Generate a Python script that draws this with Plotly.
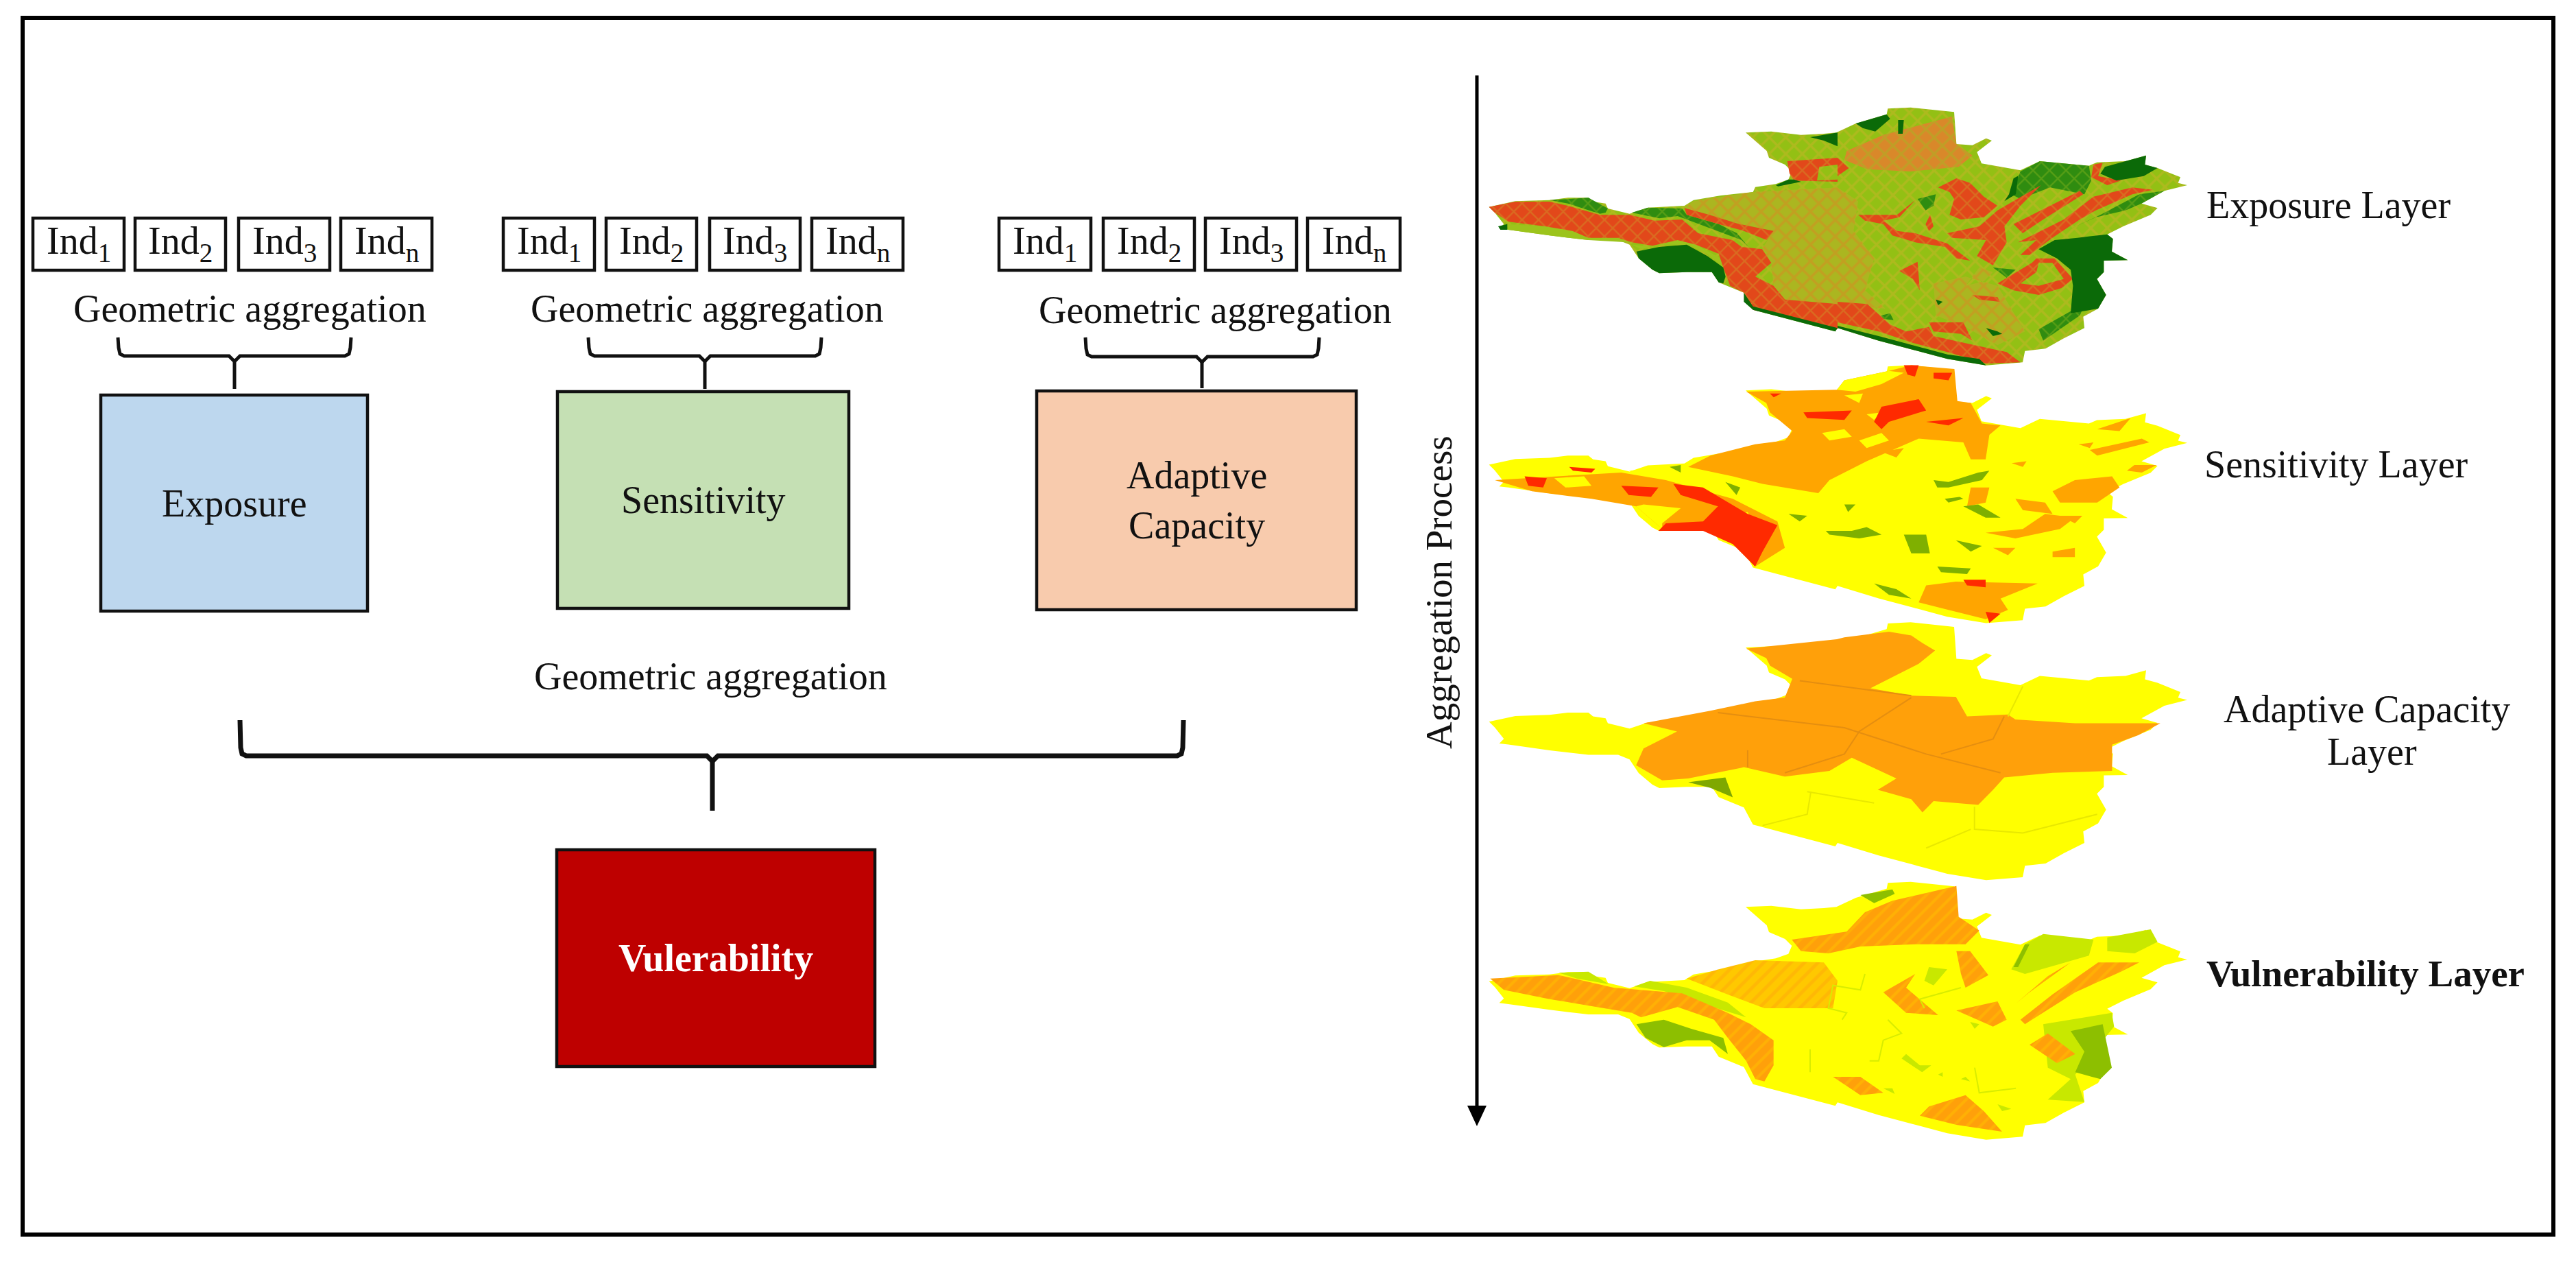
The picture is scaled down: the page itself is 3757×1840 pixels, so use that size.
import plotly.graph_objects as go

FONT = "Liberation Serif"
W, H = 3757, 1840
PAD = 8  # body margin of the page

# indicator row, one per column
IND_LABELS = ["Ind<sub>1</sub>", "Ind<sub>2</sub>", "Ind<sub>3</sub>", "Ind<sub>n</sub>"]
IND_LEFT = [[48, 197, 348, 497], [734, 884, 1035, 1184], [1457, 1609, 1758, 1907]]
IND_RIGHT = [[181, 329, 481, 630], [867, 1016, 1167, 1317], [1591, 1742, 1891, 2042]]

# component boxes
BOX_NAMES = ["Exposure", "Sensitivity", "Adaptive<br>Capacity", "<b>Vulerability</b>"]
BOX_X0 = [147, 813, 1512, 812]
BOX_X1 = [536, 1238, 1978, 1276]
BOX_Y0 = [576, 571, 570, 1239]
BOX_Y1 = [891, 887, 889, 1555]
BOX_FILL = ["#BDD7EE", "#C5E0B4", "#F8CBAD", "#BE0000"]
BOX_TEXT = ["#111111", "#111111", "#111111", "#FFFFFF"]

# braces: left, right, stem x, top, bar, stem end
BRACE_L = [172, 858, 1583, 350]
BRACE_R = [512, 1198, 1924, 1726]
BRACE_S = [342, 1028, 1753, 1039]
BRACE_T = [492, 492, 492, 1050]
BRACE_B = [519, 519, 520, 1102]
BRACE_E = [567, 567, 566, 1182]
BRACE_W = [5, 5, 5, 7]

AGG_X = [364, 1031, 1772, 1036]
AGG_BASE = [467, 467, 469, 1003]

# layer labels
LAYER_TEXT = ["Exposure Layer", "Sensitivity Layer", "Adaptive Capacity", "Layer", "<b>Vulnerability Layer</b>"]
LAYER_X = [3396, 3407, 3452, 3459, 3450]
LAYER_BASE = [316, 694, 1051, 1113, 1437]
LAYER_SIZE = [56, 56, 56, 56, 55]

OUTLINE_WEST = [(35, 455), (150, 430), (300, 425), (380, 415), (470, 415), (490, 432), (545, 440), (555, 462),
                (650, 485), (730, 458), (890, 450), (930, 425), (1050, 405), (1190, 390), (1200, 368), (1290, 355),
                (1345, 335), (1360, 300), (1330, 270), (1260, 240), (1250, 210), (1158, 130), (1270, 125),
                (1400, 140), (1500, 135), (1555, 130)]
OUTLINE_EAST = [(80, 90), (215, 50), (220, 25), (320, 20), (510, 40), (520, 180), (590, 185), (650, 155), (675, 165),
                (610, 215), (630, 265), (800, 295), (885, 255), (1100, 275), (1135, 260), (1260, 255), (1350, 230),
                (1345, 270), (1400, 285), (1500, 325), (1490, 350), (1530, 360), (1430, 385), (1330, 440),
                (1400, 460), (1370, 490), (1250, 540), (1180, 575), (1205, 595), (1200, 650), (1270, 688),
                (1165, 690), (1165, 740), (1135, 770), (1175, 840), (1140, 900), (1075, 935), (1080, 985),
                (990, 1030), (910, 1075), (820, 1085), (810, 1135), (650, 1148), (480, 1120), (330, 1080),
                (180, 1040), (0, 985)]
OUTLINE_SOUTH = [(1550, 1000), (1190, 905), (1150, 830), (1040, 785), (1010, 740), (900, 740), (780, 745), (750, 730),
                 (690, 680), (650, 620), (600, 600), (470, 600), (300, 580), (120, 555), (80, 550), (100, 530),
                 (60, 480)]

LAYER_SHIFT = [0, 375.8, 750.6, 1129]

# exposure, west crop
W_MIX = [[(930, 430), (1190, 390), (1560, 370), (1560, 880), (1330, 860), (1280, 800), (1270, 700), (1230, 640),
          (1280, 560), (1130, 530), (1000, 490), (890, 460)]]
W_MID = [
    [(300, 425), (470, 415), (555, 462), (545, 480), (520, 485), (380, 440)],
    [(660, 480), (730, 458), (880, 462), (900, 490), (1040, 530), (1120, 570), (1170, 630), (1140, 600), (1060, 570),
     (930, 520), (860, 495), (780, 505), (710, 490)],
]
W_LIME = [
    [(110, 530), (280, 540), (400, 560), (470, 590), (600, 590), (640, 610), (470, 600), (300, 580), (120, 555)],
    [(660, 620), (750, 630), (860, 600), (940, 620), (1050, 680), (1070, 730), (990, 660), (900, 620), (780, 620),
     (700, 640)],
]
W_RED = [
    [(35, 455), (150, 432), (300, 432), (380, 450), (520, 490), (650, 490), (760, 515), (880, 510), (950, 570),
     (1100, 600), (1140, 630), (1230, 640), (1270, 700), (1200, 760), (1280, 800), (1330, 860), (1560, 880),
     (1560, 990), (1190, 905), (1150, 830), (1090, 800), (1060, 720), (1040, 660), (940, 620), (860, 600), (750, 625),
     (660, 610), (600, 590), (470, 590), (400, 560), (280, 540), (120, 520), (60, 480)],
    [(890, 460), (1000, 490), (1130, 530), (1280, 560), (1250, 600), (1150, 560), (1040, 530), (900, 490)],
    [(1340, 255), (1560, 240), (1560, 270), (1480, 280), (1470, 340), (1560, 335), (1560, 345), (1370, 340), (1350, 310)],
]
W_DARK = [
    [(680, 650), (780, 630), (900, 620), (990, 670), (1060, 720), (1070, 760), (1060, 790), (1040, 785), (1010, 740),
     (900, 740), (780, 745), (750, 730), (690, 680)],
    [(1150, 830), (1190, 890), (1560, 985), (1550, 1000), (1190, 905), (1150, 870)],
    [(1440, 150), (1560, 130), (1560, 190), (1500, 165)],
    [(1290, 360), (1345, 335), (1370, 335), (1400, 345), (1300, 365)],
    [(75, 540), (115, 530), (115, 555), (85, 555)],
]

# exposure, east crop
E_ORANGE = [[(40, 210), (200, 140), (500, 60), (520, 180), (590, 230), (530, 280), (320, 300), (130, 290), (30, 250)]]
E_MIX = [
    [(0, 370), (90, 430), (70, 560), (160, 680), (120, 820), (210, 900), (0, 880)],
    [(420, 790), (560, 760), (700, 800), (760, 900), (820, 1000), (700, 1060), (560, 980), (430, 930)],
    [(560, 800), (640, 780), (680, 740), (620, 720)],
]
E_MID = [
    [(885, 255), (1100, 275), (1110, 340), (1080, 400), (930, 370), (800, 420), (760, 400), (800, 300)],
    [(1000, 560), (1130, 500), (1260, 470), (1330, 440), (1430, 385), (1320, 400), (1150, 490)],
    [(680, 720), (780, 730), (740, 765)],
    [(350, 420), (430, 400), (420, 450), (385, 470)],
    [(190, 930), (230, 920), (245, 950), (200, 945)],
    [(900, 1040), (1060, 930), (1130, 770), (1040, 900), (880, 990)],
]
E_RED = [
    [(440, 370), (520, 330), (580, 350), (640, 410), (700, 450), (640, 500), (540, 510), (490, 490), (510, 420), (490, 390)],
    [(90, 490), (180, 490), (260, 490), (340, 425), (270, 500), (200, 515), (260, 560), (340, 570), (480, 615), (580, 690),
     (520, 680), (470, 630), (340, 610), (240, 580), (200, 530), (120, 515)],
    [(480, 570), (620, 540), (700, 470), (890, 360), (800, 450), (730, 540), (740, 610), (680, 710), (610, 670), (650, 600),
     (500, 590)],
    [(770, 530), (1060, 385), (1075, 400), (900, 510), (810, 570)],
    [(790, 610), (990, 510), (1120, 410), (1290, 370), (1380, 380), (1290, 400), (1130, 470), (1060, 510), (940, 590),
     (840, 665), (800, 665), (870, 600)],
    [(1120, 270), (1160, 262), (1140, 320), (1240, 340), (1180, 360), (1110, 325)],
    [(700, 790), (850, 700), (870, 680), (950, 680), (1030, 770), (980, 810), (880, 840), (770, 820)],
    [(270, 735), (350, 695), (360, 820), (330, 770)],
    [(405, 490), (420, 540), (400, 560), (385, 530)],
    [(0, 870), (130, 880), (230, 970), (300, 1000), (400, 980), (420, 1020), (600, 1060), (740, 1090), (800, 1135), (650, 1140),
     (480, 1090), (330, 1050), (180, 1000), (0, 960)],
    [(400, 960), (550, 960), (590, 1040), (540, 1010), (420, 1000)],
    [(590, 840), (700, 850), (710, 870), (620, 860)],
    [(0, 240), (50, 285), (0, 320)],
]
E_INNER = [[(880, 700), (940, 700), (990, 770), (880, 800), (800, 790), (870, 740)]]
E_DARK = [
    [(80, 90), (215, 50), (230, 70), (165, 125), (110, 110)],
    [(265, 75), (290, 75), (285, 135), (265, 135)],
    [(880, 640), (950, 600), (1050, 590), (1180, 575), (1205, 595), (1200, 650), (1270, 688), (1165, 690), (1165, 740),
     (1135, 770), (1175, 840), (1140, 900), (1020, 920), (1030, 800), (1020, 730), (960, 680)],
    [(1170, 280), (1260, 255), (1350, 230), (1345, 270), (1400, 285), (1340, 320), (1220, 340), (1150, 310)],
    [(750, 400), (770, 330), (830, 298), (790, 320), (780, 400), (730, 430)],
    [(0, 985), (180, 1040), (330, 1080), (480, 1120), (650, 1148), (620, 1120), (480, 1100), (330, 1060), (180, 1020), (0, 975)],
    [(430, 860), (460, 870), (440, 885)],
    [(650, 985), (700, 1000), (720, 1010), (680, 1020)],
]

# sensitivity, in the frame of the first crop of the right panel
SENS_ORANGE = [
    [(458, 210), (580, 205), (590, 180), (650, 155), (680, 140), (738, 150), (742, 235), (760, 240), (775, 295),
     (800, 300), (785, 325), (780, 390), (760, 390), (750, 345), (690, 335), (620, 395), (570, 445), (555, 480),
     (480, 455), (440, 435), (380, 410), (410, 380), (470, 350), (510, 340), (520, 315), (490, 265), (485, 240)],
    [(120, 445), (200, 435), (290, 425), (350, 445), (440, 495), (500, 555), (510, 625), (470, 675), (440, 615),
     (400, 575), (345, 575), (310, 515), (250, 495), (170, 475)],
    [(870, 475), (900, 445), (950, 435), (960, 465), (930, 505), (880, 505)],
    [(780, 585), (830, 575), (860, 535), (900, 545), (880, 575), (820, 600)],
    [(920, 365), (990, 335), (1000, 345), (930, 380)],
    [(930, 310), (975, 280), (960, 315)],
    [(760, 465), (785, 465), (780, 505), (755, 515)],
    [(700, 725), (740, 715), (850, 720), (800, 760), (810, 790), (780, 815), (720, 785), (690, 770)],
    [(870, 635), (900, 625), (900, 650), (870, 650)],
    [(790, 625), (820, 625), (810, 645)],
    [(820, 495), (860, 505), (870, 535), (830, 525)],
    [(980, 405), (1010, 405), (990, 425), (970, 420)],
    [(815, 400), (835, 395), (830, 410)],
    [(905, 350), (925, 345), (920, 360)],
    [(640, 370), (670, 360), (660, 385)],
    [(880, 540), (910, 540), (900, 560)],
]
SENS_YELLOW = [
    [(590, 180), (650, 155), (670, 160), (640, 190), (605, 210), (580, 205)],
    [(310, 515), (320, 510), (370, 520), (345, 560), (345, 575)],
    [(300, 420), (370, 410), (380, 430), (340, 435)],
    [(150, 410), (200, 405), (215, 425), (170, 430)],
    [(560, 320), (590, 310), (600, 330), (570, 340)],
    [(620, 270), (640, 265), (630, 285)],
    [(610, 340), (640, 320), (650, 340), (620, 360)],
    [(200, 440), (240, 435), (250, 460), (215, 465)],
    [(590, 220), (615, 215), (610, 240)],
    [(440, 540), (460, 530), (470, 570)],
]
SENS_RED = [
    [(360, 455), (400, 465), (460, 535), (500, 565), (480, 635), (470, 675), (440, 615), (400, 580), (340, 580),
     (350, 560), (400, 555), (420, 515), (370, 485)],
    [(160, 435), (190, 440), (185, 465), (165, 460)],
    [(220, 410), (255, 415), (250, 425), (225, 420)],
    [(290, 460), (340, 465), (330, 490), (300, 485)],
    [(535, 265), (600, 260), (590, 285), (540, 280)],
    [(640, 250), (690, 230), (700, 260), (650, 290), (640, 310), (630, 290)],
    [(670, 140), (690, 140), (685, 170), (675, 165)],
    [(710, 160), (735, 160), (730, 180), (710, 175)],
    [(750, 280), (730, 300), (700, 290)],
    [(750, 710), (780, 710), (780, 730), (755, 725)],
    [(780, 795), (800, 800), (785, 825)],
    [(490, 215), (505, 215), (495, 225)],
]
SENS_GREEN = [
    [(710, 445), (730, 450), (770, 425), (785, 420), (775, 445), (730, 465), (715, 465)],
    [(725, 495), (745, 490), (750, 495), (730, 505)],
    [(750, 515), (770, 510), (800, 545), (780, 545)],
    [(565, 580), (600, 580), (620, 570), (640, 590), (610, 600), (570, 590)],
    [(590, 510), (605, 510), (595, 530)],
    [(670, 590), (700, 590), (705, 640), (680, 640)],
    [(715, 675), (760, 680), (755, 695), (720, 690)],
    [(630, 720), (660, 735), (680, 760), (650, 750)],
    [(430, 450), (450, 465), (445, 485)],
    [(740, 605), (775, 620), (760, 635)],
    [(515, 535), (540, 540), (530, 555)],
    [(355, 410), (370, 405), (370, 425)],
]

ADAPT_ORANGE = [
    [(458, 210), (580, 185), (590, 180), (650, 165), (680, 175), (695, 195), (712, 215), (690, 250), (625, 315),
     (680, 335), (740, 338), (755, 390), (810, 385), (820, 398), (900, 408), (1015, 408), (985, 440), (950, 465),
     (950, 535), (870, 540), (805, 552), (790, 585), (770, 625), (710, 615), (695, 645), (680, 610), (635, 585),
     (660, 555), (600, 500), (570, 535), (510, 550), (455, 525), (380, 555), (345, 560), (310, 520), (320, 475),
     (365, 430), (320, 408), (410, 375), (470, 350), (510, 340), (520, 290), (490, 255), (485, 235)],
]
ADAPT_GREEN = [[(380, 565), (430, 552), (440, 605), (410, 580)]]
ADAPT_EDGES = [
    [(530, 295), (680, 335)],
    [(420, 380), (590, 420), (700, 490), (800, 540)],
    [(680, 340), (610, 430), (590, 490), (510, 540)],
    [(805, 390), (790, 450), (720, 490)],
    [(460, 480), (460, 525)],
]
ADAPT_PALE = [
    [(830, 310), (810, 390)],
    [(545, 590), (540, 650), (480, 680)],
    [(540, 590), (630, 620)],
    [(765, 630), (765, 690), (830, 700), (930, 650)],
    [(760, 690), (700, 740)],
]

V_ORANGE = [
    [(20, 440), (170, 425), (290, 480), (440, 505), (540, 590), (590, 640), (640, 710), (640, 820), (620, 890), (600, 880),
     (580, 800), (540, 700), (510, 620), (430, 565), (350, 610), (330, 590), (240, 560), (150, 530), (50, 490)],
    [(680, 270), (800, 235), (840, 150), (900, 100), (1040, 35), (1045, 170), (1090, 230), (1060, 290), (950, 290), (830, 300),
     (760, 330), (700, 320)],
    [(1040, 320), (1070, 320), (1110, 425), (1060, 480), (1050, 420)],
    [(1170, 550), (1240, 430), (1290, 370), (1200, 500)],
    [(1350, 370), (1440, 370), (1400, 410), (1300, 500), (1190, 640), (1180, 620), (1250, 510)],
    [(1040, 580), (1130, 540), (1150, 620), (1120, 650)],
    [(880, 500), (950, 420), (930, 480), (1000, 600), (930, 590)],
    [(1200, 730), (1240, 680), (1300, 770), (1260, 810)],
    [(980, 1000), (1060, 950), (1100, 1020), (1140, 1110), (1040, 1080), (960, 1040)],
    [(770, 870), (830, 870), (880, 940), (830, 950)],
]
V_AMBER = [[(450, 440), (520, 400), (600, 360), (750, 370), (780, 450), (770, 570), (620, 570), (540, 510)]]
V_LIME = [
    [(1190, 290), (1230, 245), (1340, 270), (1330, 340), (1260, 380), (1190, 420), (1160, 400)],
    [(1370, 260), (1465, 225), (1480, 280), (1430, 330), (1370, 320)],
    [(170, 415), (235, 410), (280, 465), (210, 440)],
    [(335, 475), (370, 450), (450, 480), (540, 545), (580, 610), (500, 560), (400, 495)],
    [(1230, 640), (1380, 590), (1385, 650), (1300, 860), (1320, 980), (1240, 970), (1290, 880), (1240, 830)],
    [(930, 770), (960, 820), (985, 820), (965, 850), (920, 790)],
    [(880, 920), (900, 920), (905, 945)],
    [(1000, 860), (1010, 850), (1010, 870)],
    [(1060, 870), (1070, 890), (1050, 880)],
    [(980, 390), (1020, 400), (990, 470), (970, 450)],
    [(1070, 630), (1090, 640), (1080, 660)],
    [(1130, 990), (1160, 1010), (1140, 1020)],
]
V_GREEN = [
    [(340, 640), (400, 620), (460, 660), (530, 700), (540, 770), (500, 710), (450, 710), (400, 740), (360, 700)],
    [(1290, 670), (1360, 640), (1380, 830), (1355, 880), (1300, 850), (1320, 760)],
    [(830, 75), (900, 50), (905, 70), (860, 110)],
    [(1165, 390), (1190, 290), (1200, 290), (1175, 390)],
]
V_STREAMS = [
    [(840, 420), (830, 490), (770, 470), (760, 570), (800, 590), (790, 620)],
    [(890, 620), (920, 680), (880, 710), (870, 800), (850, 800)],
    [(720, 750), (720, 850)],
    [(1080, 830), (1090, 940), (1170, 920)],
    [(1050, 480), (960, 530), (970, 570)],
]

# arrow down the middle
ARROW_X = [2154, 2154]
ARROW_Y = [110, 1615]
HEAD_X = [2140, 2168, 2154]
HEAD_Y = [1612, 1612, 1642]


def from_west(p):
    return 2160 + p[0] / 3, 150 + p[1] / 3


def from_east(p):
    return 2680 + p[0] / 3, 150 + p[1] / 3


def from_frame(p):
    return 2050 + p[0] / 0.922, 80 + p[1] / 1.823


def from_vuln(p):
    return 2160 + p[0] / 1.5, 151 + p[1] / 3


def add_polys(fig, polys, conv, shift, color, pattern=None):
    xs, ys = [], []
    for poly in polys:
        pts = [conv(p) for p in poly + [poly[0]]]
        xs += [p[0] for p in pts] + [None]
        ys += [p[1] + shift for p in pts] + [None]
    fig.add_trace(go.Scatter(x=xs, y=ys, mode="lines", fill="toself", fillcolor=color, fillpattern=pattern,
                             line=dict(width=0, color=color), hoverinfo="skip", showlegend=False))


def add_line(fig, xs, ys, width, color="#000000"):
    fig.add_trace(go.Scatter(x=xs, y=ys, mode="lines", line=dict(color=color, width=width),
                             hoverinfo="skip", showlegend=False))


def add_paths(fig, paths, conv, shift, color, width):
    for path in paths:
        pts = [conv(p) for p in path]
        add_line(fig, [p[0] for p in pts], [p[1] + shift for p in pts], width, color)


def add_text(fig, x, base, text, size=56, color="#111111", angle=0):
    fig.add_annotation(x=x, y=base - 0.31 * size, text=text, showarrow=False, textangle=angle,
                       xanchor="center", yanchor="middle", font=dict(family=FONT, size=size, color=color))


fig = go.Figure()

# frame
fig.add_shape(type="rect", x0=33, x1=3724, y0=26, y1=1800, line=dict(color="#000000", width=6))

# indicators
for left, right in zip(IND_LEFT, IND_RIGHT):
    for x0, x1, label in zip(left, right, IND_LABELS):
        fig.add_shape(type="rect", x0=x0, x1=x1, y0=318, y1=394, line=dict(color="#111111", width=4.5))
        add_text(fig, (x0 + x1) / 2, 372, label)

for x, base in zip(AGG_X, AGG_BASE):
    add_text(fig, x, base, "Geometric aggregation")

# braces
for i in range(4):
    l, r, s, t, b, e = BRACE_L[i], BRACE_R[i], BRACE_S[i], BRACE_T[i], BRACE_B[i], BRACE_E[i]
    add_line(fig, [l, l + 1, l + 3, l + 9, s - 8, s, s + 8, r - 9, r - 3, r - 1, r],
             [t, b - 12, b - 3, b, b, b + 8, b, b, b - 3, b - 12, t], BRACE_W[i], "#111111")
    add_line(fig, [s, s], [b + 4, e], BRACE_W[i], "#111111")

# boxes
for i, name in enumerate(BOX_NAMES):
    fig.add_shape(type="rect", x0=BOX_X0[i], x1=BOX_X1[i], y0=BOX_Y0[i], y1=BOX_Y1[i],
                  fillcolor=BOX_FILL[i], line=dict(color="#111111", width=4.5))
    fig.add_annotation(x=(BOX_X0[i] + BOX_X1[i]) / 2, y=(BOX_Y0[i] + BOX_Y1[i]) / 2, text=name, showarrow=False,
                       font=dict(family=FONT, size=56, color=BOX_TEXT[i]))

# the outline is shared by the four layers
outline = [from_west(p) for p in OUTLINE_WEST] + [from_east(p) for p in OUTLINE_EAST] + \
          [from_west(p) for p in OUTLINE_SOUTH]
page = lambda p: p

grain = dict(shape="x", fgcolor="#C8B428", bgcolor="#93C014", size=17, solidity=0.35)
olive = dict(shape="x", fgcolor="#D88A22", bgcolor="#ABB620", size=17, solidity=0.4)
ember = dict(shape="x", fgcolor="#D09026", bgcolor="#E2481A", size=17, solidity=0.25)
moss = dict(shape="x", fgcolor="#7DB01A", bgcolor="#2F8C10", size=17, solidity=0.25)
rust = dict(shape="x", fgcolor="#A8B422", bgcolor="#D9882A", size=17, solidity=0.35)

# exposure
add_polys(fig, [outline], page, 0, "#9CB02A", grain)
add_polys(fig, W_MIX, from_west, 0, "#C09A2E", olive)
add_polys(fig, E_MIX, from_east, 0, "#C09A2E", olive)
add_polys(fig, E_ORANGE, from_east, 0, "#D9882A", rust)
add_polys(fig, W_LIME, from_west, 0, "#9CC41C")
add_polys(fig, W_MID, from_west, 0, "#2F8C10", moss)
add_polys(fig, E_MID, from_east, 0, "#2F8C10", moss)
add_polys(fig, W_RED, from_west, 0, "#E2481A", ember)
add_polys(fig, E_RED, from_east, 0, "#E2581E", ember)
add_polys(fig, E_INNER, from_east, 0, "#B0BE22", grain)
add_polys(fig, W_DARK, from_west, 0, "#0B6A08")
add_polys(fig, E_DARK, from_east, 0, "#0B6A08")

# sensitivity
add_polys(fig, [outline], page, LAYER_SHIFT[1], "#FFFF00")
add_polys(fig, SENS_ORANGE, from_frame, LAYER_SHIFT[1], "#FFA500")
add_polys(fig, SENS_YELLOW, from_frame, LAYER_SHIFT[1], "#FFFF00")
add_polys(fig, SENS_RED, from_frame, LAYER_SHIFT[1], "#FF2A00")
add_polys(fig, SENS_GREEN, from_frame, LAYER_SHIFT[1], "#7FB000")

# adaptive capacity
add_polys(fig, [outline], page, LAYER_SHIFT[2], "#FFFF00")
add_polys(fig, ADAPT_ORANGE, from_frame, LAYER_SHIFT[2], "#FFA00A")
add_polys(fig, ADAPT_GREEN, from_frame, LAYER_SHIFT[2], "#7FA800")
add_paths(fig, ADAPT_EDGES, from_frame, LAYER_SHIFT[2], "#E58E10", 2)
add_paths(fig, ADAPT_PALE, from_frame, LAYER_SHIFT[2], "#E8E800", 2)

# vulnerability
add_polys(fig, [outline], page, LAYER_SHIFT[3], "#FFFF00")
add_polys(fig, V_AMBER, from_vuln, LAYER_SHIFT[3], "#FFC800",
          dict(shape="/", fgcolor="#FFA80A", bgcolor="#FFC800", size=14, solidity=0.35))
add_polys(fig, V_LIME, from_vuln, LAYER_SHIFT[3], "#C8E800")
add_polys(fig, V_ORANGE, from_vuln, LAYER_SHIFT[3], "#FFA50A",
          dict(shape="/", fgcolor="#FFC000", bgcolor="#FFA00A", size=14, solidity=0.3))
add_polys(fig, V_GREEN, from_vuln, LAYER_SHIFT[3], "#8DBF00")
add_paths(fig, V_STREAMS, from_vuln, LAYER_SHIFT[3], "#D8EC00", 2)

# arrow
add_line(fig, ARROW_X, ARROW_Y, 5)
fig.add_trace(go.Scatter(x=HEAD_X + HEAD_X[:1], y=HEAD_Y + HEAD_Y[:1], mode="lines", fill="toself",
                         fillcolor="#000000", line=dict(width=0, color="#000000"),
                         hoverinfo="skip", showlegend=False))
add_text(fig, 2098, 864 + 0.31 * 55, "Aggregation Process", size=55, angle=-90)

for x, base, text, size in zip(LAYER_X, LAYER_BASE, LAYER_TEXT, LAYER_SIZE):
    add_text(fig, x, base, text, size=size)

fig.update_xaxes(range=[PAD, W + PAD], visible=False, fixedrange=True)
fig.update_yaxes(range=[H + PAD, PAD], visible=False, fixedrange=True)
fig.update_layout(width=W, height=H, margin=dict(l=0, r=0, t=0, b=0), paper_bgcolor="#FFFFFF",
                  plot_bgcolor="#FFFFFF", showlegend=False)

fig.write_html("out.html")
